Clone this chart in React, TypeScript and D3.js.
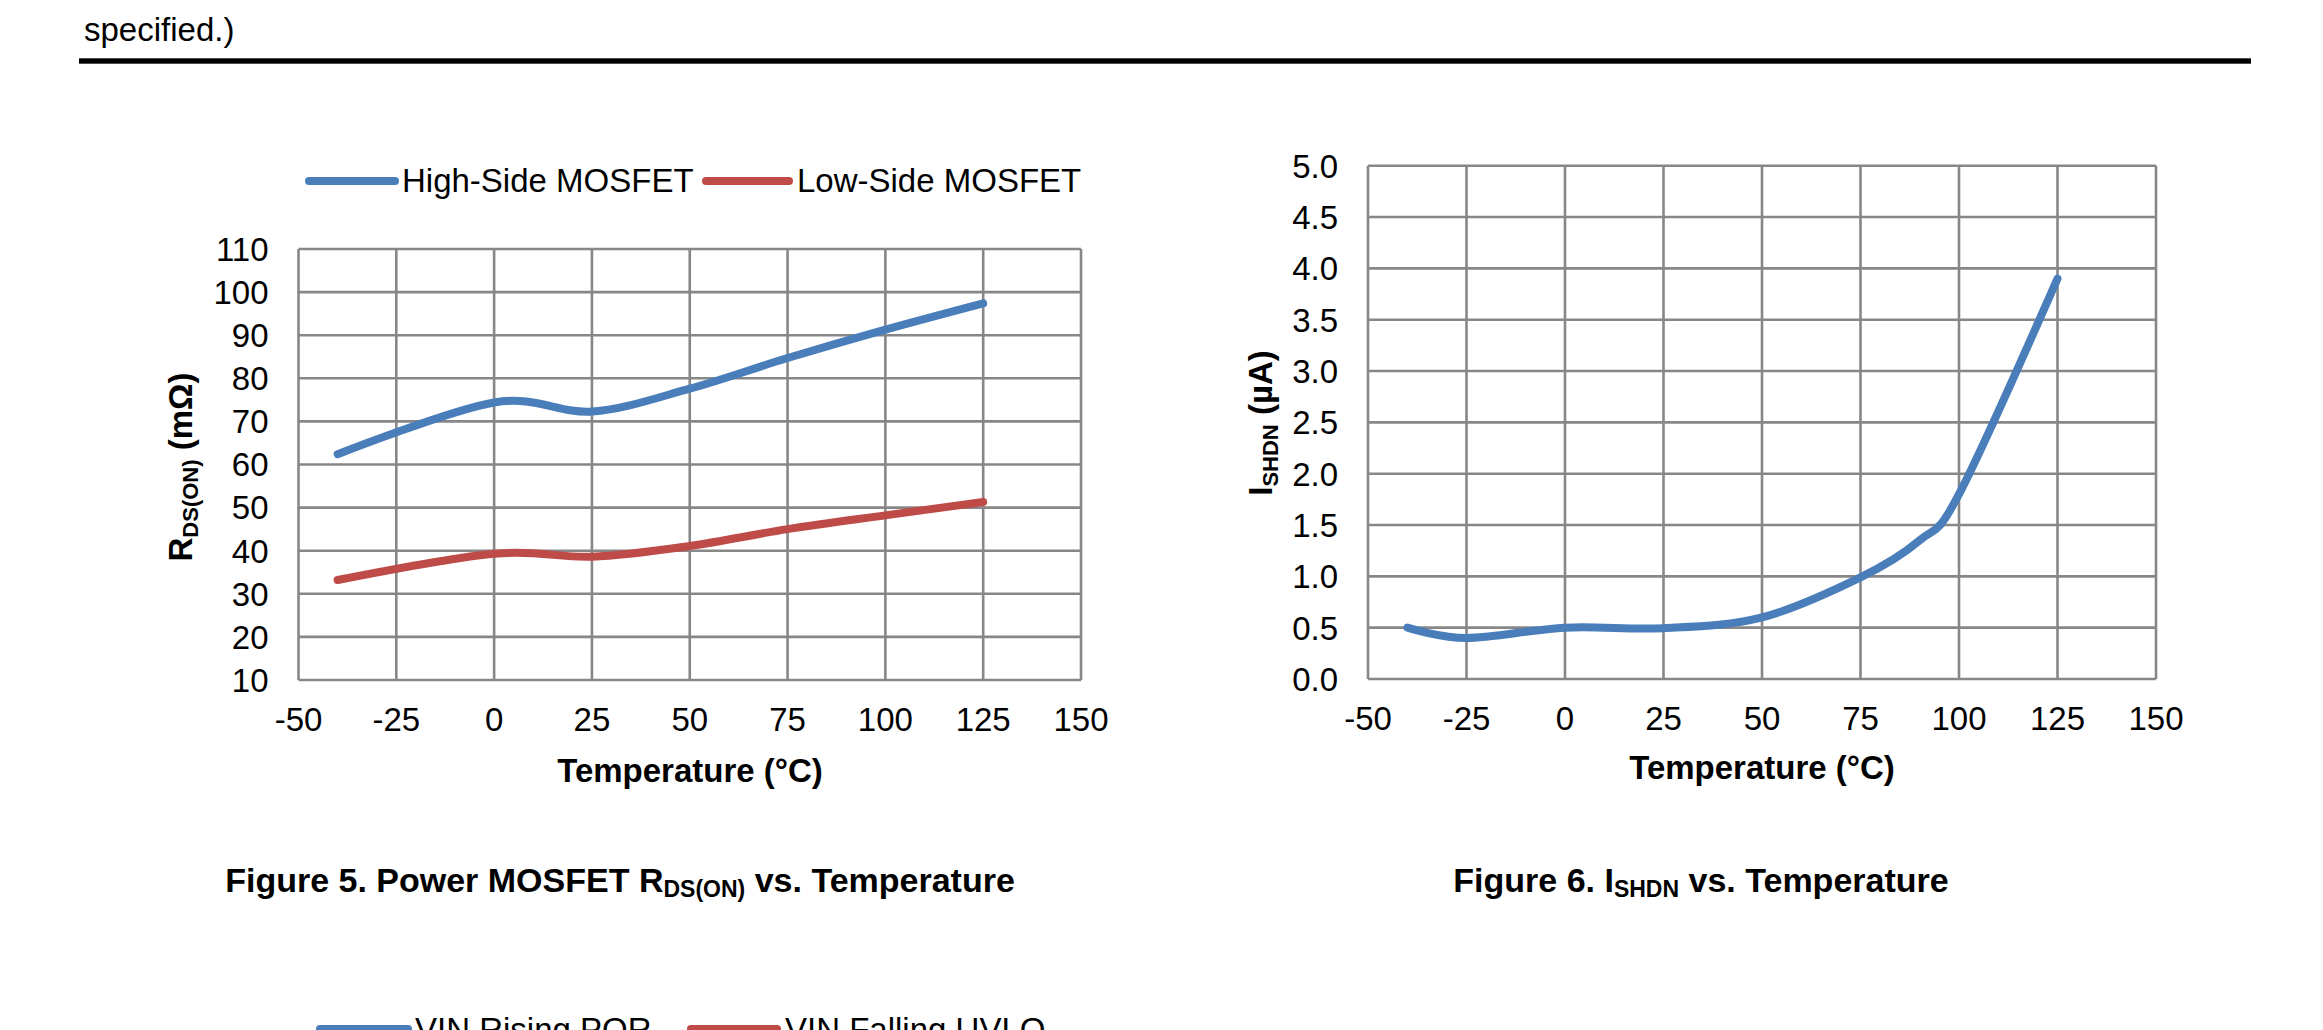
import React from "react";
import * as d3 from "d3";

// axis ticks
const TEMP_TICKS = [-50, -25, 0, 25, 50, 75, 100, 125, 150];
const RDS_TICKS = [10, 20, 30, 40, 50, 60, 70, 80, 90, 100, 110];
const SHDN_TICKS = [0, 0.5, 1, 1.5, 2, 2.5, 3, 3.5, 4, 4.5, 5];

// Figure 5 - Rds(on) vs temperature
const RDS_TEMP = [-40, 0, 25, 50, 75, 100, 125];
const HIGH_SIDE = [62.4, 74.4, 72.3, 77.6, 84.7, 91.3, 97.4];
const LOW_SIDE = [33.2, 39.3, 38.6, 41.1, 45.0, 48.2, 51.3];

// Figure 6 - shutdown current vs temperature
const SHDN_TEMP = [-40, -25, 0, 25, 50, 75, 90, 100, 125];
const SHDN_CURRENT = [0.5, 0.4, 0.5, 0.495, 0.6, 0.99, 1.35, 1.8, 3.9];

const BLUE = "#4a7ebb";
const RED = "#be4b48";
const GRID = "#878787";
const FONT = "'Liberation Sans', Arial, Helvetica, sans-serif";

interface GridProps
{
    x: d3.ScaleLinear<number, number>;
    y: d3.ScaleLinear<number, number>;
    xTicks: number[];
    yTicks: number[];
    yFormat: ( v: number ) => string;
}

function Grid ( { x, y, xTicks, yTicks, yFormat }: GridProps )
{
    const [ x0, x1 ] = x.range();
    const [ y0, y1 ] = y.range();
    return (
        <g>
            { yTicks.map( ( t ) => (
                <line key={ "h" + t } x1={ x0 } x2={ x1 } y1={ y( t ) } y2={ y( t ) } stroke={ GRID } strokeWidth={ 2.6 } />
            ) ) }
            { xTicks.map( ( t ) => (
                <line key={ "v" + t } x1={ x( t ) } x2={ x( t ) } y1={ y0 } y2={ y1 } stroke={ GRID } strokeWidth={ 2.6 } />
            ) ) }
            { yTicks.map( ( t ) => (
                <text key={ "yl" + t } x={ x0 - 30 } y={ y( t ) } dy="0.36em" textAnchor="end" fontSize={ 33 }>{ yFormat( t ) }</text>
            ) ) }
            { xTicks.map( ( t ) => (
                <text key={ "xl" + t } x={ x( t ) } y={ y0 + 51 } textAnchor="middle" fontSize={ 33 }>{ t }</text>
            ) ) }
        </g>
    );
}

export default function App ()
{
    const curve = d3.curveCardinal.tension( 0 );

    const x1 = d3.scaleLinear().domain( [ -50, 150 ] ).range( [ 298.5, 1081 ] );
    const y1 = d3.scaleLinear().domain( [ 10, 110 ] ).range( [ 680, 249 ] );
    const x2 = d3.scaleLinear().domain( [ -50, 150 ] ).range( [ 1368, 2156 ] );
    const y2 = d3.scaleLinear().domain( [ 0, 5 ] ).range( [ 679, 165.7 ] );

    const line1 = d3.line<number>().x( ( _, i ) => x1( RDS_TEMP[ i ] ) ).y( ( d ) => y1( d ) ).curve( curve );
    const line2 = d3.line<number>().x( ( _, i ) => x2( SHDN_TEMP[ i ] ) ).y( ( d ) => y2( d ) ).curve( curve );

    return (
        <svg width={ 2323 } height={ 1030 } viewBox="0 0 2323 1030"
            style={ { position: "absolute", left: 0, top: 0, display: "block", background: "#fff" } }
            fontFamily={ FONT } fill="#000">
            {/* page header */ }
            <text x={ 84 } y={ 41 } fontSize={ 33 }>specified.)</text>
            <rect x={ 79 } y={ 58.3 } width={ 2172 } height={ 5.4 } fill="#000" />

            {/* Figure 5 */ }
            <line x1={ 309 } x2={ 395 } y1={ 181 } y2={ 181 } stroke={ BLUE } strokeWidth={ 8 } strokeLinecap="round" />
            <text x={ 402 } y={ 192 } fontSize={ 33 }>High-Side MOSFET</text>
            <line x1={ 706 } x2={ 789 } y1={ 181 } y2={ 181 } stroke={ RED } strokeWidth={ 8 } strokeLinecap="round" />
            <text x={ 797 } y={ 192 } fontSize={ 33 }>Low-Side MOSFET</text>

            <Grid x={ x1 } y={ y1 } xTicks={ TEMP_TICKS } yTicks={ RDS_TICKS } yFormat={ ( v ) => String( v ) } />
            <path d={ line1( HIGH_SIDE ) ?? "" } fill="none" stroke={ BLUE } strokeWidth={ 8 } strokeLinecap="round" strokeLinejoin="round" />
            <path d={ line1( LOW_SIDE ) ?? "" } fill="none" stroke={ RED } strokeWidth={ 8 } strokeLinecap="round" strokeLinejoin="round" />

            <text transform="translate(192,467) rotate(-90)" textAnchor="middle" fontSize={ 33 } fontWeight="bold">
                R<tspan fontSize={ 22 } dy={ 6 }>DS(ON)</tspan><tspan dy={ -6 }> (mΩ)</tspan>
            </text>
            <text x={ 690 } y={ 782 } textAnchor="middle" fontSize={ 33 } fontWeight="bold">Temperature (°C)</text>
            <text x={ 620 } y={ 892 } textAnchor="middle" fontSize={ 34 } fontWeight="bold">
                Figure 5. Power MOSFET R<tspan fontSize={ 23 } dy={ 5 }>DS(ON)</tspan><tspan dy={ -5 }> vs. Temperature</tspan>
            </text>

            {/* Figure 6 */ }
            <Grid x={ x2 } y={ y2 } xTicks={ TEMP_TICKS } yTicks={ SHDN_TICKS } yFormat={ d3.format( ".1f" ) } />
            <path d={ line2( SHDN_CURRENT ) ?? "" } fill="none" stroke={ BLUE } strokeWidth={ 8 } strokeLinecap="round" strokeLinejoin="round" />

            <text transform="translate(1272,423) rotate(-90)" textAnchor="middle" fontSize={ 33 } fontWeight="bold">
                I<tspan fontSize={ 22 } dy={ 6 }>SHDN</tspan><tspan dy={ -6 }> (µA)</tspan>
            </text>
            <text x={ 1762 } y={ 779 } textAnchor="middle" fontSize={ 33 } fontWeight="bold">Temperature (°C)</text>
            <text x={ 1701 } y={ 892 } textAnchor="middle" fontSize={ 34 } fontWeight="bold">
                Figure 6. I<tspan fontSize={ 23 } dy={ 5 }>SHDN</tspan><tspan dy={ -5 }> vs. Temperature</tspan>
            </text>

            {/* next figure legend, cut off by the page edge as in the source page */ }
            <line x1={ 320 } x2={ 408 } y1={ 1029 } y2={ 1029 } stroke={ BLUE } strokeWidth={ 8 } strokeLinecap="round" />
            <text x={ 415 } y={ 1041 } fontSize={ 33 }>VIN Rising POR</text>
            <line x1={ 691 } x2={ 777 } y1={ 1029 } y2={ 1029 } stroke={ RED } strokeWidth={ 8 } strokeLinecap="round" />
            <text x={ 785 } y={ 1041 } fontSize={ 33 }>VIN Falling UVLO</text>
        </svg>
    );
}
